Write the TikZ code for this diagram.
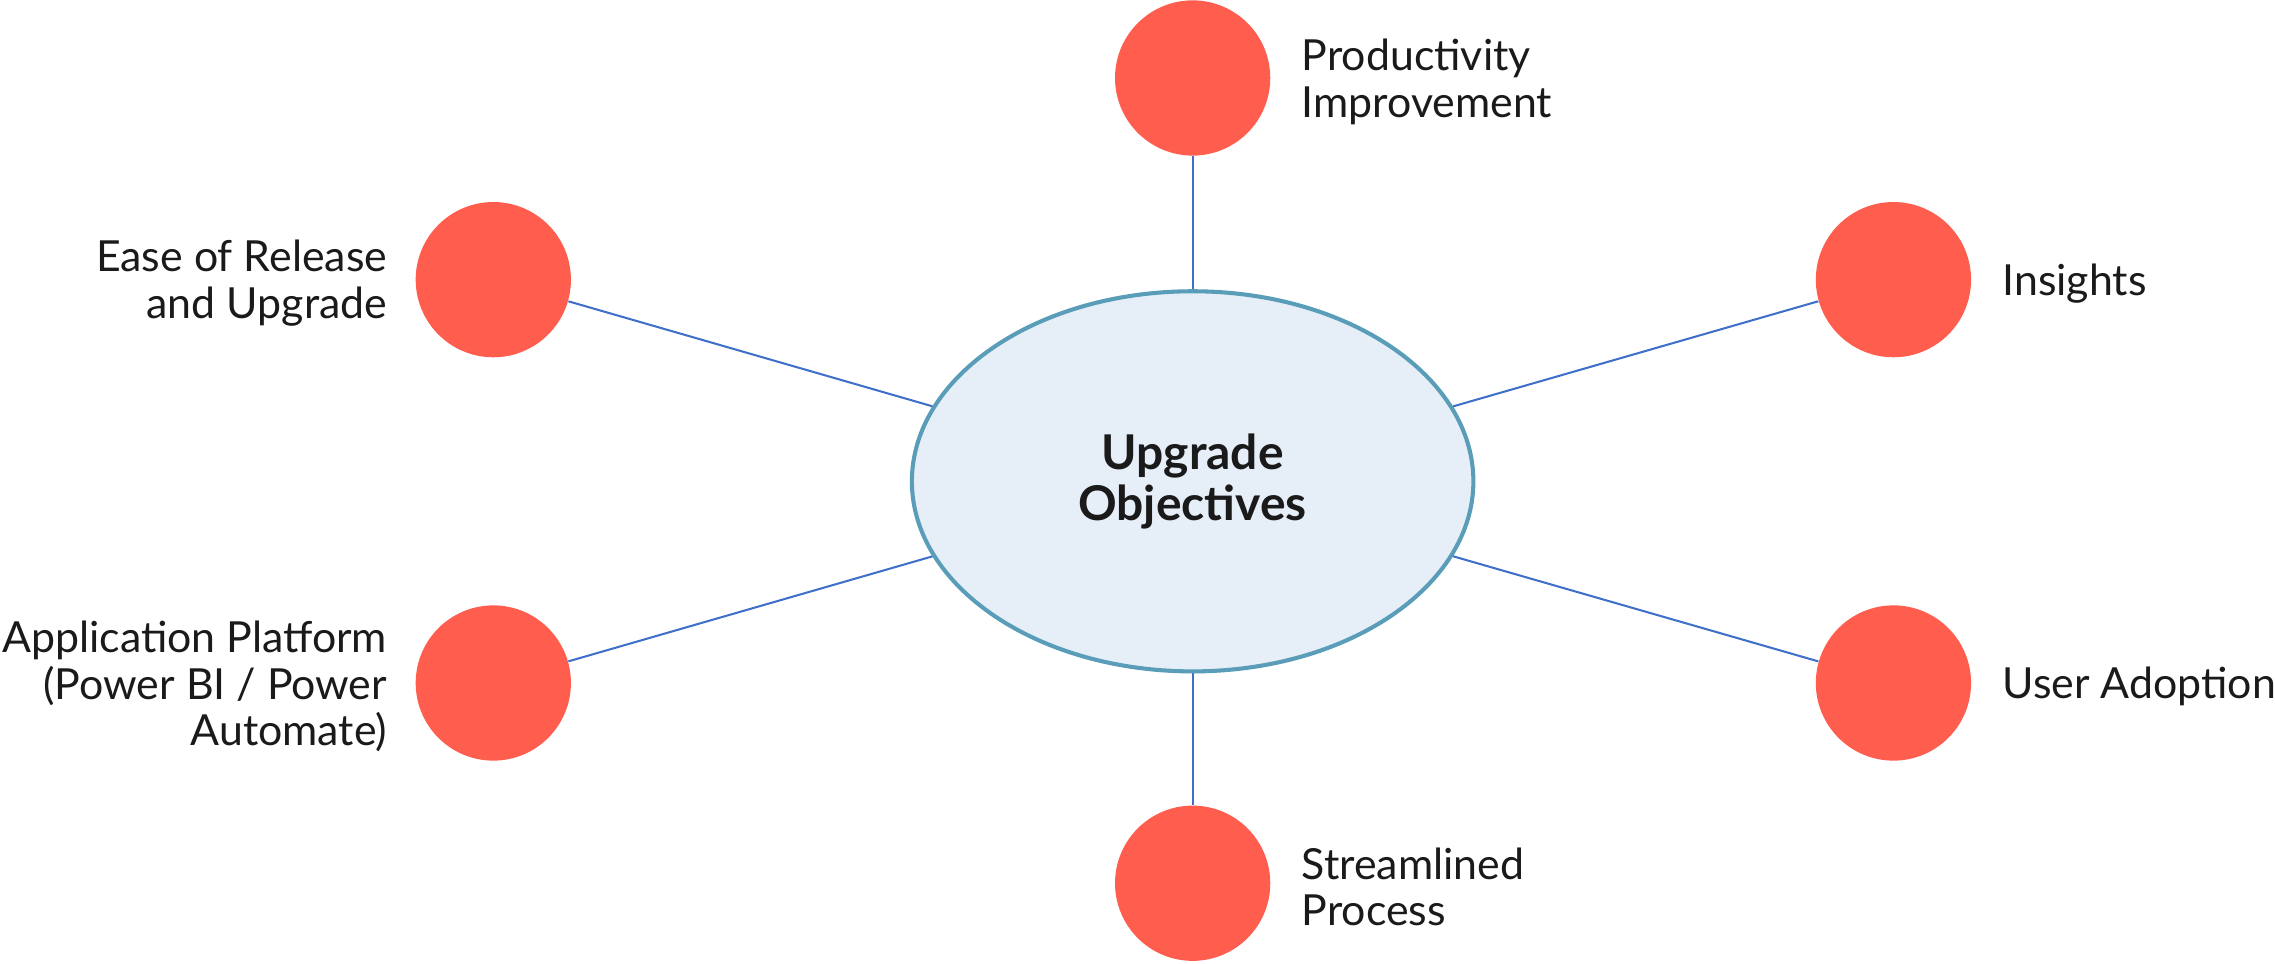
\documentclass[tikz,border=0pt]{standalone}
\usepackage{fontspec}
\setmainfont{Lato}
\usetikzlibrary{shapes.geometric,positioning}
\definecolor{dotred}{HTML}{FF5E4F}
\definecolor{hubfill}{HTML}{E6EEF8}
\definecolor{hubline}{HTML}{5A9DB8}
\definecolor{linkblue}{HTML}{3F6FC9}
\definecolor{inkgray}{HTML}{1A1A1A}
\begin{document}
\begin{tikzpicture}[
  dot/.style={circle,fill=dotred,minimum size=2.14cm,inner sep=0pt},
  hub/.style={ellipse,draw=hubline,line width=1.6pt,fill=hubfill,minimum width=7.74cm,minimum height=5.24cm,inner sep=0pt,align=center,text=inkgray,font=\bfseries\fontsize{18.8}{19.9}\selectfont},
  link/.style={draw=linkblue,line width=0.8pt},
  rlabel/.style={align=left,inner sep=0pt,yshift=-0.05cm,text=inkgray,font=\fontsize{16.8}{18.3}\selectfont},
  llabel/.style={align=right,inner sep=0pt,yshift=-0.05cm,text=inkgray,font=\fontsize{16.8}{18.3}\selectfont}]
\useasboundingbox (0,0) rectangle (31.36,13.275);

\node[hub] (goal) at (16.44,6.64) {Upgrade\\Objectives};

\node[dot] (prod) at (16.44,12.2) {}; \node[rlabel,right=0.42cm of prod] (prodtxt) {Productivity\\Improvement};
\node[dot] (ease) at (6.8,9.42) {}; \node[llabel,left=0.38cm of ease] (easetxt) {Ease of Release\\and Upgrade};
\node[dot] (insi) at (26.1,9.42) {}; \node[rlabel,right=0.42cm of insi] (insitxt) {Insights};
\node[dot] (plat) at (6.8,3.86) {}; \node[llabel,left=0.38cm of plat] (plattxt) {Application Platform\\(Power BI / Power\\Automate)};
\node[dot] (user) at (26.1,3.86) {}; \node[rlabel,right=0.42cm of user] (usertxt) {User Adoption};
\node[dot] (proc) at (16.44,1.1) {}; \node[rlabel,right=0.42cm of proc] (proctxt) {Streamlined\\Process};

\foreach \n in {prod,ease,insi,plat,user,proc} \draw[link] (goal) -- (\n);

\end{tikzpicture}
\end{document}
